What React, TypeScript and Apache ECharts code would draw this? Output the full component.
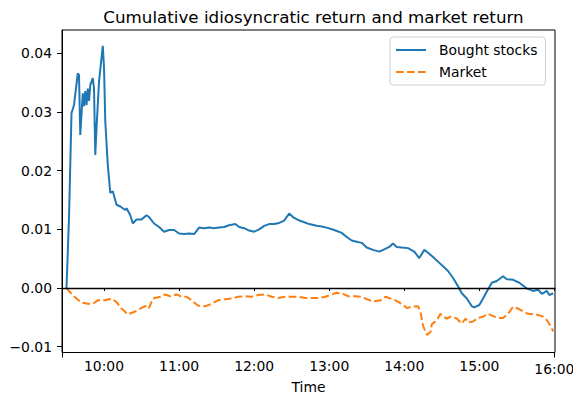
import React, { useEffect, useRef } from "react";
import * as echarts from "echarts";

const chartTitle = "Cumulative idiosyncratic return and market return";
const xAxisName = "Time";
const seriesNames = ["Bought stocks", "Market"];
const xTickLabels = ["10:00", "11:00", "12:00", "13:00", "14:00", "15:00", "16:00"];
const yTickValues = [-0.01, 0, 0.01, 0.02, 0.03, 0.04];

const boughtTimes = [
  "9:30", "9:32", "9:34", "9:36", "9:39", "9:40", "9:41", "9:43", "9:44", "9:45",
  "9:46", "9:47", "9:48", "9:49", "9:51", "9:52", "9:53", "9:54", "9:56", "9:59",
  "10:00", "10:01", "10:03", "10:05", "10:07", "10:10", "10:13", "10:17", "10:18", "10:21",
  "10:23", "10:26", "10:30", "10:34", "10:36", "10:40", "10:44", "10:48", "10:52", "10:56",
  "11:00", "11:04", "11:08", "11:12", "11:16", "11:20", "11:24", "11:28", "11:32", "11:36",
  "11:40", "11:45", "11:48", "11:52", "11:56", "12:00", "12:04", "12:08", "12:12", "12:16",
  "12:20", "12:24", "12:28", "12:31", "12:35", "12:39", "12:44", "12:50", "12:54", "12:58",
  "13:04", "13:10", "13:14", "13:18", "13:22", "13:26", "13:30", "13:35", "13:40", "13:44",
  "13:48", "13:51", "13:54", "13:58", "14:03", "14:08", "14:12", "14:16", "14:19", "14:23",
  "14:27", "14:31", "14:35", "14:39", "14:43", "14:46", "14:50", "14:54", "14:56", "15:00",
  "15:03", "15:06", "15:10", "15:14", "15:19", "15:22", "15:27", "15:32", "15:38", "15:43",
  "15:47", "15:50", "15:54", "15:56", "15:59",
];
const boughtValues = [
  0, 0.012, 0.0298, 0.0312, 0.0366, 0.0363, 0.0261, 0.0332, 0.031, 0.0336,
  0.0312, 0.034, 0.0319, 0.0346, 0.0358, 0.034, 0.0227, 0.0273, 0.0352, 0.0413,
  0.0375, 0.0284, 0.021, 0.0162, 0.0165, 0.0142, 0.0139, 0.0133, 0.0136, 0.0124,
  0.011, 0.0117, 0.0117, 0.0124, 0.0121, 0.011, 0.0104, 0.0096, 0.0099, 0.0099,
  0.0093, 0.0092, 0.0093, 0.0092, 0.0103, 0.0102, 0.0103, 0.0102, 0.0103, 0.0104,
  0.0107, 0.0109, 0.0104, 0.0102, 0.0098, 0.0096, 0.01, 0.0106, 0.0109, 0.0109,
  0.0111, 0.0115, 0.0127, 0.0121, 0.0116, 0.0113, 0.0109, 0.0106, 0.0105, 0.0103,
  0.0099, 0.0094, 0.0087, 0.0081, 0.0079, 0.0077, 0.0069, 0.0065, 0.0062, 0.0066,
  0.007, 0.0076, 0.007, 0.0069, 0.0068, 0.0062, 0.0051, 0.0065, 0.006, 0.0053,
  0.0045, 0.0037, 0.0029, 0.0017, 0.0003, -0.0009, -0.0018, -0.0031, -0.0033, -0.0029,
  -0.0018, -0.0006, 0.0009, 0.0012, 0.002, 0.0015, 0.0014, 0.0009, -0.0001, -0.0005,
  -0.0003, -0.001, -0.0005, -0.0012, -0.0009,
];

const marketTimes = [
  "9:30", "9:34", "9:38", "9:42", "9:47", "9:51", "9:55", "10:01", "10:06", "10:10",
  "10:14", "10:19", "10:25", "10:30", "10:34", "10:36", "10:39", "10:45", "10:49", "10:53",
  "10:58", "11:02", "11:06", "11:10", "11:15", "11:21", "11:26", "11:31", "11:37", "11:42",
  "11:47", "11:53", "11:58", "12:03", "12:09", "12:14", "12:19", "12:25", "12:30", "12:35",
  "12:41", "12:46", "12:51", "12:57", "13:01", "13:06", "13:11", "13:15", "13:21", "13:26",
  "13:30", "13:35", "13:41", "13:45", "13:49", "13:53", "13:58", "14:02", "14:06", "14:11",
  "14:13", "14:15", "14:18", "14:21", "14:22", "14:26", "14:29", "14:31", "14:34", "14:37",
  "14:42", "14:46", "14:49", "14:51", "14:55", "14:59", "15:03", "15:07", "15:11", "15:15",
  "15:19", "15:23", "15:27", "15:31", "15:35", "15:39", "15:45", "15:50", "15:53", "15:55",
  "15:57", "15:59",
];
const marketValues = [
  0, -0.001, -0.0018, -0.0025, -0.0027, -0.0027, -0.0021, -0.0021, -0.0018, -0.0024,
  -0.0035, -0.0045, -0.004, -0.0034, -0.003, -0.0034, -0.0018, -0.0015, -0.0011, -0.0014,
  -0.0011, -0.0015, -0.0015, -0.0021, -0.003, -0.0031, -0.0027, -0.0021, -0.0019, -0.0018,
  -0.0015, -0.0014, -0.0015, -0.0012, -0.0011, -0.0015, -0.0017, -0.0015, -0.0015, -0.0015,
  -0.0017, -0.0017, -0.0017, -0.0015, -0.0012, -0.0008, -0.001, -0.0014, -0.0014, -0.0015,
  -0.0019, -0.0023, -0.0021, -0.0015, -0.0018, -0.0021, -0.0027, -0.0034, -0.0032, -0.0031,
  -0.0041, -0.0064, -0.008, -0.0075, -0.0062, -0.0055, -0.0044, -0.0049, -0.0052, -0.0049,
  -0.0052, -0.0061, -0.0052, -0.0059, -0.0057, -0.0051, -0.0049, -0.0044, -0.0048, -0.0051,
  -0.0051, -0.0044, -0.0032, -0.0035, -0.004, -0.0044, -0.0045, -0.0048, -0.0052, -0.0058,
  -0.0065, -0.0074,
];

const FONT = "DejaVu Sans";

function toMinutes(t: string): number {
  const [h, m] = t.split(":").map(Number);
  return h * 60 + m;
}

export default function App() {
  const ref = useRef<HTMLDivElement>(null);

  useEffect(() => {
    if (!ref.current) return;
    const chart = echarts.init(ref.current, undefined, { renderer: "svg" });

    const bought = boughtTimes.map((t, i) => [toMinutes(t), boughtValues[i]]);
    const market = marketTimes.map((t, i) => [toMinutes(t), marketValues[i]]);
    const xTickMinutes = xTickLabels.map(toMinutes);
    const xMin = 566.4;
    const xMax = 960.5;

    const option: any = {
      animation: false,
      backgroundColor: "#fff",
      title: {
        text: chartTitle,
        left: 308.5,
        top: 3,
        textAlign: "center",
        textStyle: { fontFamily: FONT, fontSize: 16.7, fontWeight: "normal", color: "#000" },
      },
      legend: {
        orient: "vertical",
        left: 390,
        top: 37,
        padding: [6, 8, 6, 5],
        itemWidth: 30,
        itemHeight: 14,
        itemGap: 8,
        borderColor: "#d0d0d0",
        borderWidth: 1,
        borderRadius: 3,
        backgroundColor: "rgba(255,255,255,0.8)",
        itemStyle: { opacity: 0 },
        textStyle: { fontFamily: FONT, fontSize: 13.9, color: "#000", padding: [0, 0, 0, 8] },
        data: seriesNames,
      },
      grid: {
        left: 62,
        top: 30,
        width: 493,
        height: 322.5,
        containLabel: false,
        outerBoundsMode: "none",
        show: true,
        borderColor: "#000",
        borderWidth: 1,
        backgroundColor: "transparent",
      },
      xAxis: [
        {
          type: "value",
          min: xMin,
          max: xMax,
          name: xAxisName,
          nameLocation: "middle",
          nameGap: 25,
          nameTextStyle: { fontFamily: FONT, fontSize: 13.9, color: "#000" },
          splitLine: { show: false },
          axisLine: { show: true, lineStyle: { color: "#000", width: 1 } },
          axisTick: { show: true, length: 3, customValues: xTickMinutes, lineStyle: { color: "#000", width: 1 } },
          axisLabel: {
            customValues: xTickMinutes,
            margin: 6,
            fontFamily: FONT,
            fontSize: 13.9,
            color: "#000",
            formatter: (v: number) => {
              const h = Math.floor(v / 60);
              const m = Math.round(v % 60);
              const s = `${h}:${m < 10 ? "0" + m : m}`;
              return h === 16 ? `{lo|${s}}` : s;
            },
            rich: { lo: { fontFamily: FONT, fontSize: 13.9, color: "#000", padding: [3, 0, 0, 0] } },
          },
        },
        {
          type: "value",
          min: xMin,
          max: xMax,
          position: "bottom",
          show: true,
          splitLine: { show: false },
          axisLine: { show: false },
          axisLabel: { show: false },
          axisTick: { show: true, length: 5, customValues: [xMin + 0.3, 960], lineStyle: { color: "#000", width: 1 } },
        },
      ],
      yAxis: {
        type: "value",
        min: -0.011,
        max: 0.044,
        splitLine: { show: false },
        axisLine: { show: true, lineStyle: { color: "#000", width: 1 } },
        axisTick: { show: true, length: 5, customValues: yTickValues, lineStyle: { color: "#000", width: 1 } },
        axisLabel: {
          customValues: yTickValues,
          margin: 10,
          fontFamily: FONT,
          fontSize: 13.9,
          color: "#000",
          formatter: (v: number) => (v < -1e-9 ? "\u2212" : "") + Math.abs(v).toFixed(2),
        },
      },
      series: [
        {
          name: seriesNames[0],
          type: "line",
          data: bought,
          showSymbol: false,
          symbol: "none",
          lineStyle: { color: "#1f77b4", width: 2 },
          itemStyle: { color: "#1f77b4" },
          z: 3,
          markLine: {
            silent: true,
            symbol: ["none", "none"],
            label: { show: false },
            lineStyle: { color: "#000", width: 1.4, type: "solid" },
            data: [{ yAxis: 0 }],
            z: 5,
          },
        },
        {
          name: seriesNames[1],
          type: "line",
          data: market,
          showSymbol: false,
          symbol: "none",
          lineStyle: { color: "#ff7f0e", width: 2, type: [7.7, 3.3] },
          itemStyle: { color: "#ff7f0e" },
          z: 4,
        },
      ],
    };

    chart.setOption(option);
    return () => chart.dispose();
  }, []);

  return (
    <div
      ref={ref}
      style={{ position: "fixed", left: 0, top: 0, width: 573, height: 395, background: "#fff" }}
    />
  );
}
